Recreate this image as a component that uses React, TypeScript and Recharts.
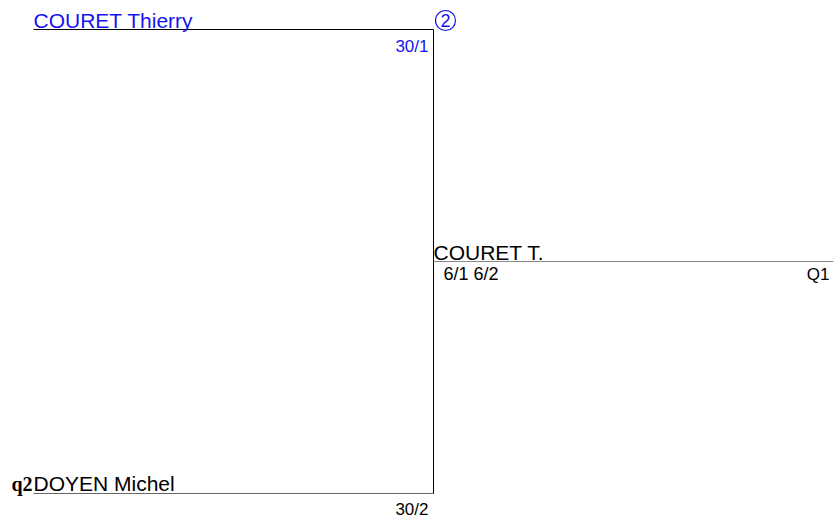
import { ComposedChart, ReferenceLine, Scatter, XAxis, YAxis } from "recharts";

const BLUE = "#1414f0";
const FONT = "'Liberation Sans', Arial, sans-serif";

// round = column of the draw, slot = place in the column (0 = top, 1 = bottom)
const entrants = [
	{ name: "COURET Thierry", score: "30/1", round: 0, slot: 0, color: BLUE, line: "#000", seed: "2", qualifier: "" },
	{ name: "DOYEN Michel", score: "30/2", round: 0, slot: 1, color: "#000", line: "#666", seed: "", qualifier: "q2" },
];

const winners = [{ name: "COURET T.", score: "6/1 6/2", round: 1, slot: 0.5, tag: "Q1" }];

// bracket lines built from the entries
const segments = [
	...entrants.map((e) => ({
		from: { x: e.round, y: e.slot },
		to: { x: e.round + 1, y: e.slot },
		color: e.line,
	})),
	{
		from: { x: entrants[0].round + 1, y: entrants[0].slot },
		to: { x: entrants[1].round + 1, y: entrants[1].slot },
		color: "#000",
	},
	...winners.map((w) => ({
		from: { x: w.round, y: w.slot },
		to: { x: w.round + 1, y: w.slot },
		color: "#8a8a8a",
	})),
];

const nameLabels = [
	...entrants.map((e) => ({ x: e.round, y: e.slot, text: e.name, color: e.color, q: e.qualifier })),
	...winners.map((w) => ({ x: w.round, y: w.slot, text: w.name, color: "#000", q: "" })),
];
const scoreLabels = [
	...entrants.map((e) => ({ x: e.round + 1, y: e.slot, text: e.score, color: e.color, seed: e.seed, left: false })),
	...winners.map((w) => ({ x: w.round, y: w.slot, text: w.score, color: "#000", seed: "", left: true })),
];
const tagLabels = winners.map((w) => ({ x: w.round + 1, y: w.slot, text: w.tag }));

const NameShape = (props: any) => {
	const { cx, cy, payload } = props;
	return (
		<g>
			<text x={cx} y={cy - 2} fill={payload.color} fontSize={21} fontFamily={FONT}>
				{payload.text}
			</text>
			{payload.q && (
				<text
					x={cx - 1}
					y={cy - 2}
					textAnchor="end"
					fontSize={20}
					fontWeight="bold"
					fontFamily="'Liberation Serif', 'Times New Roman', serif"
				>
					{payload.q}
				</text>
			)}
		</g>
	);
};

const ScoreShape = (props: any) => {
	const { cx, cy, payload } = props;
	return (
		<g>
			<text
				x={payload.left ? cx + 10 : cx - 5}
				y={payload.left ? cy + 18 : cy + 22}
				textAnchor={payload.left ? "start" : "end"}
				fill={payload.color}
				fontSize={payload.left ? 18 : 17}
				fontFamily={FONT}
			>
				{payload.text}
			</text>
			{payload.seed && (
				<g>
					<circle cx={cx + 12} cy={cy - 9} r={10} fill="none" stroke={BLUE} strokeWidth={1.2} />
					<text x={cx + 12} y={cy - 2.5} textAnchor="middle" fill={BLUE} fontSize={18} fontFamily={FONT}>
						{payload.seed}
					</text>
				</g>
			)}
		</g>
	);
};

const TagShape = (props: any) => {
	const { cx, cy, payload } = props;
	return (
		<text x={cx - 4} y={cy + 18} textAnchor="end" fontSize={17} fontFamily={FONT}>
			{payload.text}
		</text>
	);
};

export default function App() {
	return (
		<div style={{ position: "absolute", left: 0, top: 0, width: 835, height: 523, background: "#fff" }}>
			<ComposedChart width={835} height={523} margin={{ top: 0, right: 0, bottom: 0, left: 0 }}>
				<XAxis type="number" dataKey="x" domain={[-0.08375, 2.00375]} allowDataOverflow hide />
				<YAxis type="number" dataKey="y" domain={[-0.063578, 1.063578]} allowDataOverflow reversed hide />
				{segments.map((s, i) => (
					<ReferenceLine key={i} segment={[s.from, s.to]} stroke={s.color} strokeWidth={1} ifOverflow="visible" />
				))}
				<Scatter data={nameLabels} dataKey="y" shape={NameShape} isAnimationActive={false} />
				<Scatter data={scoreLabels} dataKey="y" shape={ScoreShape} isAnimationActive={false} />
				<Scatter data={tagLabels} dataKey="y" shape={TagShape} isAnimationActive={false} />
			</ComposedChart>
		</div>
	);
}
